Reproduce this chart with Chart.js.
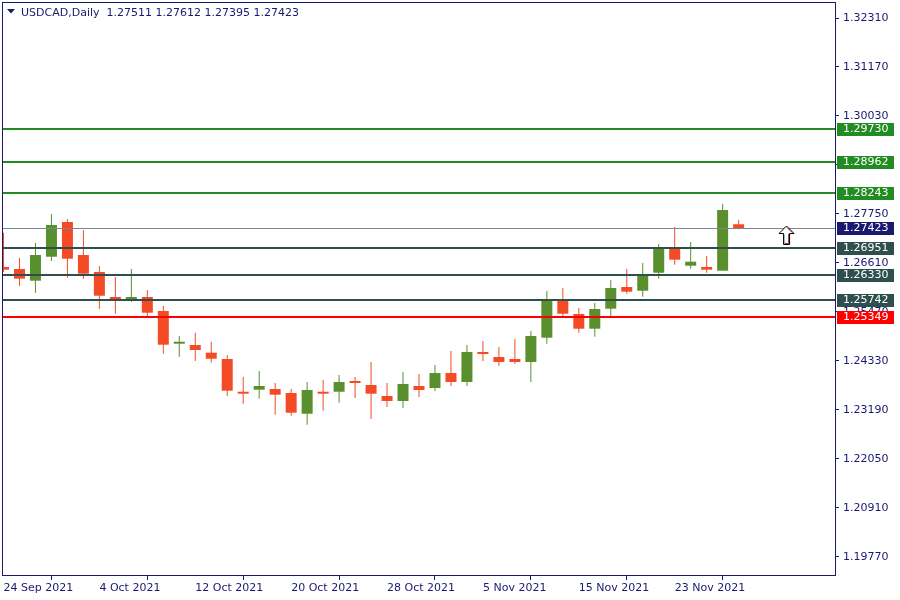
<!DOCTYPE html>
<html>
<head>
<meta charset="utf-8">
<title>USDCAD Daily</title>
<script src="https://cdn.jsdelivr.net/npm/chart.js@4.4.1/dist/chart.umd.min.js"></script>
<style>
  html, body { margin: 0; padding: 0; background: #fff; }
  canvas { display: block; }
</style>
</head>
<body>
<canvas id="chart" width="900" height="600" style="width:900px;height:600px"></canvas>
<script>
// USDCAD daily candles, 24 Sep 2021 -> 29 Nov 2021 (one bar per trading day)
const opens  = [1.26517, 1.26470, 1.26198, 1.26756, 1.27564, 1.26796, 1.26400, 1.25819, 1.25733, 1.25819,
                1.25493, 1.24732, 1.24702, 1.24523, 1.24376, 1.23608, 1.23662, 1.23678, 1.23585, 1.23103,
                1.23585, 1.23615, 1.23841, 1.23771, 1.23515, 1.23399, 1.23748, 1.23701, 1.24050, 1.23841,
                1.24539, 1.24423, 1.24376, 1.24306, 1.24872, 1.25756, 1.25423, 1.25081, 1.25547, 1.26051,
                1.25965, 1.26384, 1.26936, 1.26547, 1.26517, 1.26431, 1.27511]
const highs  = [1.27315, 1.26726, 1.27082, 1.27750, 1.27634, 1.27378, 1.26540, 1.26284, 1.26470, 1.25982,
                1.25609, 1.24911, 1.24988, 1.24779, 1.24469, 1.23957, 1.24097, 1.23818, 1.23678, 1.23841,
                1.23888, 1.24004, 1.23957, 1.24306, 1.23818, 1.24074, 1.24027, 1.24237, 1.24562, 1.24702,
                1.24795, 1.24655, 1.24842, 1.25028, 1.25958, 1.26028, 1.25563, 1.25679, 1.26214, 1.26470,
                1.26610, 1.27052, 1.27447, 1.27098, 1.26773, 1.27983, 1.27612]
const lows   = [1.26407, 1.26082, 1.25919, 1.26656, 1.26268, 1.26245, 1.25547, 1.25430, 1.25709, 1.25360,
                1.24500, 1.24430, 1.24330, 1.24290, 1.23515, 1.23336, 1.23452, 1.23080, 1.23057, 1.22848,
                1.23173, 1.23359, 1.23469, 1.22980, 1.23259, 1.23236, 1.23492, 1.23632, 1.23748, 1.23748,
                1.24330, 1.24213, 1.24260, 1.23841, 1.24732, 1.25360, 1.24988, 1.24895, 1.25377, 1.25896,
                1.25826, 1.26245, 1.26570, 1.26477, 1.26384, 1.26431, 1.27395]
const closes = [1.26454, 1.26245, 1.26796, 1.27494, 1.26710, 1.26361, 1.25849, 1.25756, 1.25819, 1.25453,
                1.24709, 1.24779, 1.24586, 1.24383, 1.23639, 1.23569, 1.23748, 1.23546, 1.23127, 1.23655,
                1.23569, 1.23841, 1.23818, 1.23569, 1.23399, 1.23795, 1.23655, 1.24050, 1.23841, 1.24539,
                1.24493, 1.24306, 1.24306, 1.24911, 1.25749, 1.25430, 1.25081, 1.25540, 1.26028, 1.25942,
                1.26354, 1.26959, 1.26687, 1.26640, 1.26454, 1.27843, 1.27423]

// x axis date ticks (bar index -> label)
const dateTickIdx  = [0, 6, 12, 18, 24, 30, 36, 42]
const dateTickText = ['24 Sep 2021', '4 Oct 2021', '12 Oct 2021', '20 Oct 2021',
                      '28 Oct 2021', '5 Nov 2021', '15 Nov 2021', '23 Nov 2021']

// right price axis
const priceTicks = [1.32310, 1.31170, 1.30030, 1.28890, 1.27750, 1.26610,
                    1.25470, 1.24330, 1.23190, 1.22050, 1.20910, 1.19770]
const priceMin = 1.19351
const priceMax = 1.32659

// horizontal levels drawn on the chart
const levelValues = [1.29730, 1.28962, 1.28243, 1.26951, 1.26330, 1.25742, 1.25349]
const levelColors = ['#228b22', '#228b22', '#228b22', '#2f4f4f', '#2f4f4f', '#2f4f4f', '#ff0000']
const bidPrice = 1.27423

// up arrow marker
const arrowIdx = [49]
const arrowPrice = [1.2725]

const titleText = 'USDCAD,Daily  1.27511 1.27612 1.27395 1.27423'

const NAVY = '#191970'
const BULL = '#5a8f2e'
const BEAR = '#f44b26'

Chart.defaults.font.family = 'DejaVu Sans'
Chart.defaults.font.size = 11

const candleColors = opens.map((o, i) => closes[i] >= o ? BULL : BEAR)

// arrow icon used as point style
function makeArrow () {
  const c = document.createElement('canvas')
  c.width = 19
  c.height = 21
  const g = c.getContext('2d')
  const pts = [[9.5, 1], [17, 8.5], [12.5, 8.5], [12.5, 19.5], [6.5, 19.5], [6.5, 8.5], [2, 8.5]]
  g.beginPath()
  pts.forEach((p, i) => i ? g.lineTo(p[0], p[1]) : g.moveTo(p[0], p[1]))
  g.closePath()
  g.fillStyle = '#ffffff'
  g.fill()
  // shaded right side
  g.strokeStyle = '#a0442a'
  g.lineWidth = 1
  g.beginPath()
  g.moveTo(10, 2.5); g.lineTo(15, 7.5)
  g.moveTo(11.5, 9); g.lineTo(11.5, 18.5); g.lineTo(7.5, 18.5)
  g.stroke()
  g.strokeStyle = '#9cc8e8'
  g.beginPath()
  g.moveTo(7.5, 9.5); g.lineTo(7.5, 18)
  g.stroke()
  g.strokeStyle = '#000000'
  g.beginPath()
  pts.forEach((p, i) => i ? g.lineTo(p[0], p[1]) : g.moveTo(p[0], p[1]))
  g.closePath()
  g.stroke()
  return c
}

// level lines + bid line, drawn right before the arrow dataset (index 0 is drawn last)
const levelsPlugin = {
  id: 'levels',
  beforeDatasetDraw (chart, args) {
    if (args.index !== 0) return
    const { ctx, chartArea: a, scales: { y } } = chart
    ctx.save()
    levelValues.forEach((v, i) => {
      const py = Math.round(y.getPixelForValue(v))
      ctx.fillStyle = levelColors[i]
      ctx.fillRect(a.left, py - 1, a.right - a.left, 2)
    })
    const by = Math.round(y.getPixelForValue(bidPrice))
    ctx.fillStyle = '#778899'
    ctx.fillRect(a.left, by, a.right - a.left, 1)
    ctx.restore()
  },
  afterDraw (chart) {
    const { ctx, chartArea: a, scales: { y } } = chart
    ctx.save()
    // frame
    ctx.strokeStyle = NAVY
    ctx.lineWidth = 1
    ctx.strokeRect(a.left - 0.5, a.top - 0.5, a.right - a.left + 1, a.bottom - a.top + 1)
    // price boxes on the axis
    ctx.font = '11px "DejaVu Sans"'
    ctx.textBaseline = 'middle'
    const box = (v, col) => {
      const py = Math.round(y.getPixelForValue(v))
      ctx.fillStyle = col
      ctx.fillRect(a.right + 2, py - 6, 57, 13)
      ctx.fillStyle = '#ffffff'
      ctx.fillText(v.toFixed(5), a.right + 8, py + 0.5)
    }
    levelValues.forEach((v, i) => box(v, levelColors[i]))
    box(bidPrice, NAVY)
    // title
    ctx.fillStyle = NAVY
    ctx.beginPath()
    ctx.moveTo(7, 9); ctx.lineTo(15, 9); ctx.lineTo(11, 13.5)
    ctx.closePath()
    ctx.fill()
    ctx.textBaseline = 'alphabetic'
    ctx.fillText(titleText, 21, 16)
    ctx.restore()
  }
}

new Chart(document.getElementById('chart'), {
  type: 'bar',
  data: {
    datasets: [
      {
        type: 'scatter',
        data: arrowIdx.map((x, i) => ({ x, y: arrowPrice[i] })),
        pointStyle: makeArrow(),
        pointRadius: 10
      },
      {
        data: opens.map((o, i) => ({ x: i, y: [o, closes[i]] })),
        backgroundColor: candleColors,
        borderWidth: 0,
        barThickness: 11,
        maxBarThickness: 11,
        minBarLength: 2,
        inflateAmount: 0,
        grouped: false
      },
      {
        data: lows.map((l, i) => ({ x: i, y: [l, highs[i]] })),
        backgroundColor: candleColors,
        borderWidth: 0,
        barThickness: 1,
        maxBarThickness: 1,
        inflateAmount: 0,
        grouped: false
      }
    ]
  },
  options: {
    responsive: false,
    animation: false,
    events: [],
    layout: { autoPadding: false, padding: { left: 3, top: 3, right: 0, bottom: 0 } },
    plugins: { legend: { display: false }, tooltip: { enabled: false } },
    scales: {
      x: {
        type: 'linear',
        offset: false,
        min: -0.03125,
        max: 52.03125,
        afterFit: s => { s.height = 25; s.paddingLeft = 0; s.paddingRight = 0 },
        afterBuildTicks: s => { s.ticks = dateTickIdx.map(v => ({ value: v })) },
        ticks: {
          autoSkip: false,
          maxRotation: 0,
          minRotation: 0,
          align: 'start',
          padding: 2,
          color: NAVY,
          callback: v => dateTickText[dateTickIdx.indexOf(v)]
        },
        grid: { drawOnChartArea: false, tickLength: 5, color: NAVY },
        border: { color: NAVY }
      },
      y: {
        type: 'linear',
        position: 'right',
        min: priceMin,
        max: priceMax,
        beginAtZero: false,
        afterFit: s => { s.width = 65; s.paddingTop = 0; s.paddingBottom = 0 },
        afterBuildTicks: s => { s.ticks = priceTicks.map(v => ({ value: v })) },
        ticks: {
          autoSkip: false,
          padding: 4,
          color: NAVY,
          callback: v => v.toFixed(5)
        },
        grid: { drawOnChartArea: false, tickLength: 4, color: NAVY },
        border: { color: NAVY }
      }
    }
  },
  plugins: [levelsPlugin]
})
</script>
</body>
</html>
